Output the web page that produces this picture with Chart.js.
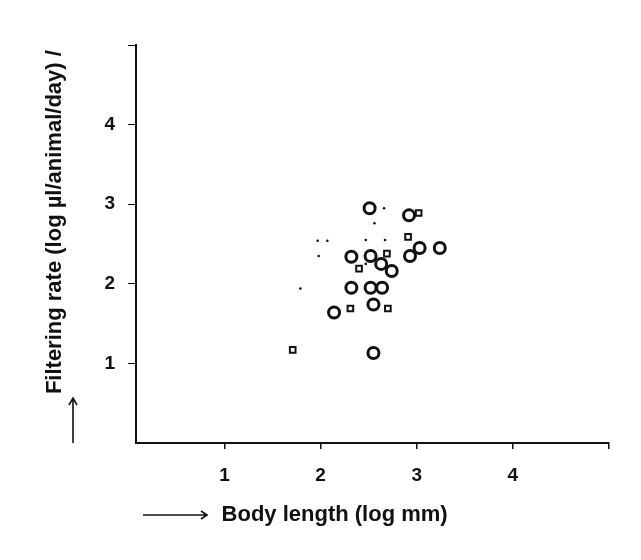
<!DOCTYPE html>
<html lang="en">
<head>
<meta charset="UTF-8">
<title>Filtering rate vs body length</title>
<script src="https://cdn.jsdelivr.net/npm/chart.js"></script>
<style>
  body { margin: 0; background: #fff; }
  #wrap { width: 641px; height: 560px; }
</style>
</head>
<body>
<div id="wrap"><canvas id="chart" width="641" height="560"></canvas></div>
<script>
// open circles (log mm, log ul/animal/day)
const circleX = [2.51, 2.92, 2.32, 2.52, 2.63, 2.74, 2.93, 3.03, 3.24, 2.32, 2.52, 2.64, 2.55, 2.14, 2.55];
const circleY = [2.95, 2.86, 2.34, 2.35, 2.25, 2.16, 2.35, 2.45, 2.45, 1.95, 1.95, 1.95, 1.74, 1.64, 1.13];
// small squares
const squareX = [2.31, 2.70, 2.40, 2.69, 2.91, 1.71, 3.02];
const squareY = [1.69, 1.69, 2.19, 2.38, 2.59, 1.17, 2.89];
// tiny dots
const dotX = [2.66, 2.56, 1.97, 2.07, 2.47, 2.67, 1.98, 1.79, 2.47];
const dotY = [2.95, 2.76, 2.54, 2.54, 2.55, 2.55, 2.35, 1.94, 2.25];

const xTicks = [1, 2, 3, 4, 5];
const xTickLabels = ['1', '2', '3', '4', ''];
const yTicks = [1, 2, 3, 4, 5];
const yTickLabels = ['1', '2', '3', '4', ''];

const xTitle = 'Body length (log mm)';
const yTitle = 'Filtering rate (log \u00b5l/animal/day) /';

const ink = '#111';
const fontFamily = '"Liberation Sans", Arial, sans-serif';

function pts(xs, ys) {
    return xs.map((x, i) => ({ x: x, y: ys[i] }));
}

// draws the two hand arrows next to the axis titles
const arrowPlugin = {
    id: 'arrows',
    afterDraw(chart) {
        const ctx = chart.ctx;
        const area = chart.chartArea;
        ctx.save();
        ctx.strokeStyle = ink;
        ctx.lineWidth = 1.6;
        // x arrow
        const ay = 515, ax0 = area.left + 7, ax1 = area.left + 71;
        ctx.beginPath();
        ctx.moveTo(ax0, ay);
        ctx.lineTo(ax1, ay);
        ctx.moveTo(ax1 - 6, ay - 4);
        ctx.lineTo(ax1, ay);
        ctx.lineTo(ax1 - 6, ay + 4);
        ctx.stroke();
        // y arrow
        const bx = 73, by0 = area.bottom, by1 = area.bottom - 45;
        ctx.beginPath();
        ctx.moveTo(bx, by0);
        ctx.lineTo(bx, by1);
        ctx.moveTo(bx - 4, by1 + 7);
        ctx.lineTo(bx, by1);
        ctx.lineTo(bx + 4, by1 + 7);
        ctx.stroke();
        ctx.restore();
    }
};

new Chart(document.getElementById('chart'), {
    type: 'scatter',
    data: {
        datasets: [
            {
                label: 'circles',
                data: pts(circleX, circleY),
                pointStyle: 'circle',
                pointRadius: 5.5,
                borderWidth: 3,
                borderColor: ink,
                backgroundColor: '#fff'
            },
            {
                label: 'squares',
                data: pts(squareX, squareY),
                pointStyle: 'rect',
                pointRadius: 4,
                borderWidth: 2,
                borderColor: ink,
                backgroundColor: '#fff'
            },
            {
                label: 'dots',
                data: pts(dotX, dotY),
                pointStyle: 'circle',
                pointRadius: 1.3,
                borderWidth: 0,
                backgroundColor: ink
            }
        ]
    },
    options: {
        responsive: false,
        animation: false,
        layout: { padding: { left: 0, right: 32, top: 45, bottom: 0 } },
        plugins: {
            legend: { display: false },
            tooltip: { enabled: false }
        },
        scales: {
            x: {
                type: 'linear',
                min: 0.08,
                max: 5,
                afterBuildTicks: s => { s.ticks = xTicks.map(v => ({ value: v })); },
                afterFit: s => { s.height = 117; },
                border: { display: true, color: ink, width: 2 },
                grid: { display: true, drawOnChartArea: false, drawTicks: true, tickLength: 6, color: ink, lineWidth: 1.5 },
                ticks: {
                    padding: 15,
                    color: ink,
                    font: { family: fontFamily, size: 19, weight: 'bold' },
                    callback: (v, i) => xTickLabels[i]
                },
                title: {
                    display: true,
                    align: 'start',
                    text: '              ' + xTitle,
                    color: ink,
                    padding: { top: 0, bottom: 32 },
                    font: { family: fontFamily, size: 22, weight: 'bold' }
                }
            },
            y: {
                type: 'linear',
                min: 0,
                max: 5,
                afterBuildTicks: s => { s.ticks = yTicks.map(v => ({ value: v })); },
                afterFit: s => { s.width = 136; },
                border: { display: true, color: ink, width: 2 },
                grid: { display: true, drawOnChartArea: false, drawTicks: true, tickLength: 8, color: ink, lineWidth: 1 },
                ticks: {
                    padding: 13,
                    color: ink,
                    font: { family: fontFamily, size: 19, weight: 'bold' },
                    callback: (v, i) => yTickLabels[i]
                },
                title: {
                    display: true,
                    align: 'start',
                    text: '        ' + yTitle,
                    color: ink,
                    padding: { top: 42, bottom: 0 },
                    font: { family: fontFamily, size: 22, weight: 'bold' }
                }
            }
        }
    },
    plugins: [arrowPlugin]
});
</script>
</body>
</html>
